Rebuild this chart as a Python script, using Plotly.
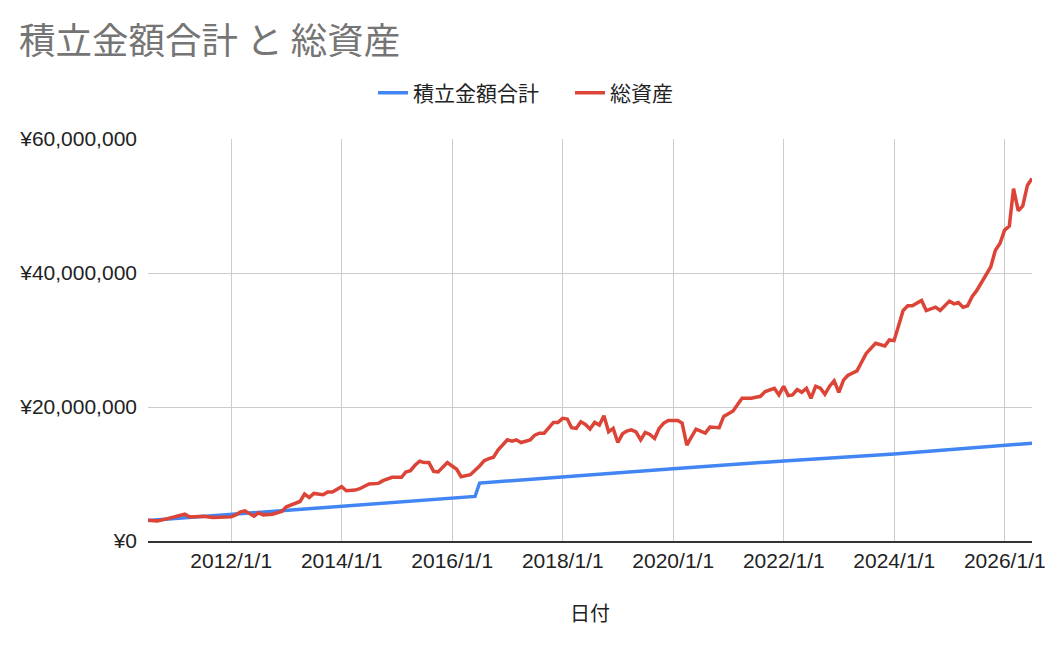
import pandas as pd
import plotly.graph_objects as go

# ---- data (values in millions of yen, month-end dates) ----
total_months = [
    "2010-06", "2010-08", "2010-10", "2010-12", "2011-02", "2011-03", "2011-04", "2011-06",
    "2011-08", "2011-10", "2011-12", "2012-01", "2012-02", "2012-03", "2012-04", "2012-05",
    "2012-06", "2012-07", "2012-09", "2012-11", "2012-12", "2013-02", "2013-03", "2013-04",
    "2013-05", "2013-06", "2013-08", "2013-09", "2013-10", "2013-12", "2014-01", "2014-03",
    "2014-04", "2014-06", "2014-08", "2014-09", "2014-11", "2015-01", "2015-02", "2015-03",
    "2015-04", "2015-05", "2015-06", "2015-07", "2015-08", "2015-09", "2015-11", "2015-12",
    "2016-01", "2016-02", "2016-03", "2016-04", "2016-06", "2016-07", "2016-08", "2016-09",
    "2016-10", "2016-11", "2016-12", "2017-01", "2017-02", "2017-03", "2017-05", "2017-06",
    "2017-07", "2017-08", "2017-10", "2017-11", "2017-12", "2018-01", "2018-02", "2018-03",
    "2018-04", "2018-05", "2018-06", "2018-07", "2018-08", "2018-09", "2018-10", "2018-11",
    "2018-12", "2019-01", "2019-02", "2019-03", "2019-04", "2019-05", "2019-06", "2019-07",
    "2019-08", "2019-09", "2019-10", "2019-11", "2020-01", "2020-02", "2020-03", "2020-04",
    "2020-05", "2020-07", "2020-08", "2020-10", "2020-11", "2021-01", "2021-03", "2021-05",
    "2021-07", "2021-08", "2021-10", "2021-11", "2021-12", "2022-01", "2022-02", "2022-03",
    "2022-04", "2022-05", "2022-06", "2022-07", "2022-08", "2022-09", "2022-10", "2022-11",
    "2022-12", "2023-01", "2023-02", "2023-04", "2023-05", "2023-06", "2023-08", "2023-10",
    "2023-11", "2023-12", "2024-01", "2024-02", "2024-03", "2024-04", "2024-06", "2024-07",
    "2024-09", "2024-10", "2024-12", "2025-01", "2025-02", "2025-03", "2025-04", "2025-05",
    "2025-06", "2025-08", "2025-09", "2025-10", "2025-11", "2025-12", "2026-01", "2026-02",
    "2026-03", "2026-04", "2026-05", "2026-06",
]
total_assets = [
    3.1, 3.0, 3.3, 3.7, 4.0, 3.6, 3.6, 3.7,
    3.5, 3.5, 3.6, 3.9, 4.3, 4.5, 4.1, 3.7,
    4.2, 3.9, 4.0, 4.4, 5.1, 5.7, 5.9, 7.0,
    6.5, 7.1, 6.9, 7.3, 7.3, 8.1, 7.5, 7.6,
    7.8, 8.5, 8.6, 9.0, 9.5, 9.5, 10.3, 10.5,
    11.3, 11.9, 11.7, 11.7, 10.4, 10.3, 11.7, 11.2,
    10.7, 9.6, 9.7, 9.9, 11.2, 12.0, 12.3, 12.5,
    13.6, 14.3, 15.1, 14.9, 15.1, 14.7, 15.1, 15.8,
    16.1, 16.1, 17.7, 17.7, 18.3, 18.2, 16.9, 16.8,
    17.8, 17.4, 16.7, 17.7, 17.3, 18.7, 16.3, 16.8,
    14.7, 16.0, 16.4, 16.6, 16.3, 15.1, 16.2, 15.9,
    15.3, 16.8, 17.6, 18.0, 18.0, 17.6, 14.3, 15.5,
    16.7, 16.1, 17.0, 16.9, 18.6, 19.4, 21.3, 21.3,
    21.6, 22.3, 22.8, 21.8, 23.1, 21.7, 21.8, 22.6,
    22.2, 22.8, 21.3, 23.1, 22.8, 21.9, 23.1, 23.9,
    22.2, 24.0, 24.7, 25.4, 26.8, 28.0, 29.5, 29.1,
    30.0, 29.9, 32.2, 34.4, 35.1, 35.1, 35.9, 34.4,
    34.9, 34.4, 35.8, 35.4, 35.6, 34.9, 35.1, 36.5,
    37.4, 39.7, 40.9, 43.4, 44.4, 46.4, 47.0, 52.6,
    49.3, 50.0, 53.1, 54.1,
]

contrib_months = [
    "2010-06", "2011-12", "2013-12", "2015-12", "2016-05", "2016-06", "2017-12",
    "2019-12", "2021-12", "2023-06", "2023-09", "2023-12", "2026-06",
]
contrib_total = [
    3.05, 3.95, 5.15, 6.4, 6.65, 8.65, 9.6,
    10.8, 11.95, 12.75, 12.8, 13.0, 14.6,
]

series_names = ["積立金額合計", "総資産"]
title_text = "積立金額合計 と 総資産"
x_title = "日付"
y_ticks = [0, 20_000_000, 40_000_000, 60_000_000]
y_tick_labels = ["¥0", "¥20,000,000", "¥40,000,000", "¥60,000,000"]


def month_end(months):
    return pd.to_datetime(months) + pd.offsets.MonthEnd(0)


def yen(vals):
    return [v * 1_000_000 for v in vals]


x_assets = month_end(total_months)
x_contrib = month_end(contrib_months)

fig = go.Figure()
fig.add_trace(go.Scatter(
    x=x_contrib, y=yen(contrib_total), name=series_names[0], mode="lines",
    line=dict(color="#4285F4", width=3.5), legendwidth=152,
))
fig.add_trace(go.Scatter(
    x=x_assets, y=yen(total_assets), name=series_names[1], mode="lines",
    line=dict(color="#DB4437", width=3.5), legendwidth=70,
))

base_font = "Liberation Sans, Arial, Noto Sans CJK JP, sans-serif"
cjk_font = "Noto Sans CJK JP, sans-serif"

fig.update_layout(
    width=1062, height=650,
    margin=dict(l=148, r=30, t=139, b=109, pad=0),
    paper_bgcolor="white", plot_bgcolor="white",
    font=dict(family=base_font, size=21, color="#222222"),
    title=dict(
        text=title_text, xref="container", yref="container",
        x=19 / 1062, xanchor="left", y=1 - 41 / 650, yanchor="middle",
        font=dict(family=cjk_font, size=36.5, color="#757575"),
    ),
    legend=dict(
        orientation="h", xref="container", yref="container",
        x=373 / 1062, xanchor="left", y=1 - 93 / 650, yanchor="middle",
        font=dict(family=cjk_font, size=21, color="#222222"),
        bgcolor="rgba(0,0,0,0)",
    ),
    showlegend=True,
    hovermode="x unified",
)

fig.update_xaxes(
    type="date",
    range=[x_assets[0], x_assets[-1]],
    tick0="2012-01-01", dtick="M24", tickformat="%Y/%-m/%-d",
    showgrid=True, gridcolor="#cccccc", gridwidth=1,
    showline=True, linecolor="#333333", linewidth=2,
    zeroline=False, ticks="", ticklabelstandoff=0,
    tickfont=dict(family=base_font, size=21, color="#222222"),
    title=dict(text=x_title, standoff=36,
               font=dict(family=cjk_font, size=20, color="#222222")),
)
fig.update_yaxes(
    range=[0, 60_000_000], tickvals=y_ticks, ticktext=y_tick_labels,
    showgrid=True, gridcolor="#cccccc", gridwidth=1,
    showline=False, zeroline=False, ticks="", ticklabelstandoff=10,
    tickfont=dict(family=base_font, size=21, color="#222222"),
)

fig.write_html(
    "out.html",
    config={"displayModeBar": False},
    post_script="document.body.style.margin='0';document.body.style.overflow='hidden';",
)
